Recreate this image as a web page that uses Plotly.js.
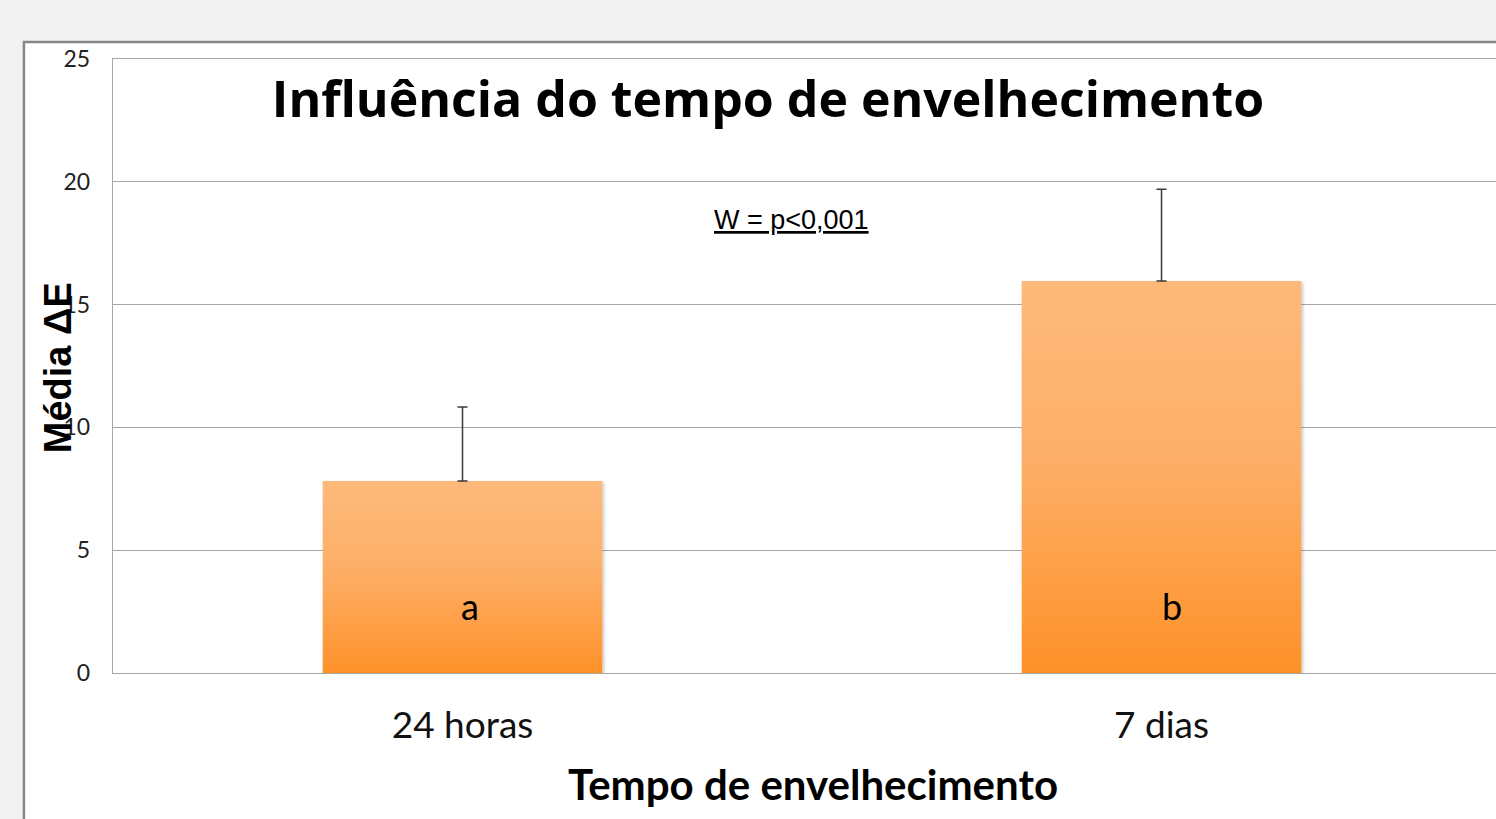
<!DOCTYPE html>
<html>
<head>
<meta charset="utf-8">
<script src="https://cdn.plot.ly/plotly-3.0.1.min.js"></script>
<style>
  html, body { margin: 0; padding: 0; background: #f2f2f2; overflow: hidden; }
</style>
</head>
<body>
<div id="root"></div>
<script>
// dados do grafico
const categorias = ['24 horas', '7 dias'];
const medias = [7.82, 15.96];
const desvios = [3.01, 3.74];
const letras = ['a', 'b'];
const tituloGrafico = 'Influência do tempo de envelhecimento';
const tituloX = 'Tempo de envelhecimento';
const tituloY = 'Média ΔE';
const teste = 'W = p&lt;0,001';

const cinza = '#a6a6a6';

var trace = {
    x: categorias,
    y: medias,
    type: 'bar',
    width: 0.4,
    marker: { color: '#fda550', line: { width: 0 } },
    error_y: {
        type: 'data',
        symmetric: false,
        array: desvios,
        arrayminus: [0, 0],
        color: '#3a3a3a',
        thickness: 1.5,
        width: 5
    },
    hoverinfo: 'none'
};

// letras dentro das barras
var anotacoes = categorias.map(function(c, i) {
    return {
        x: c, y: 2.71, xref: 'x', yref: 'y',
        text: letras[i], showarrow: false,
        xshift: i === 0 ? 7 : 10,
        font: { family: 'Lato, sans-serif', size: 36, color: '#000' }
    };
});

anotacoes.push({
    x: 0.4707, y: 18.44, xref: 'x', yref: 'y',
    text: '<u>' + teste + '</u>', showarrow: false,
    font: { family: 'Liberation Sans, Arial, sans-serif', size: 27, color: '#000' }
});

anotacoes.push({
    x: -0.0398, y: 0.498, xref: 'paper', yref: 'paper',
    xanchor: 'center', yanchor: 'middle',
    text: '<b>' + tituloY + '</b>', showarrow: false, textangle: -90,
    font: { family: 'Liberation Sans, Arial, sans-serif', size: 38, color: '#000' }
});

anotacoes.push({
    x: 0.506, y: -0.1808, xref: 'paper', yref: 'paper',
    xanchor: 'center', yanchor: 'middle',
    text: '<b>' + tituloX + '</b>', showarrow: false,
    font: { family: 'Lato, sans-serif', size: 42, color: '#000' }
});

var layout = {
    width: 1496,
    height: 819,
    margin: { l: 113, r: 0, t: 59, b: 146, pad: 0 },
    paper_bgcolor: '#f2f2f2',
    plot_bgcolor: 'rgba(0,0,0,0)',
    showlegend: false,
    title: {
        text: '<b>' + tituloGrafico + '</b>',
        x: 0.4736, xref: 'paper', xanchor: 'center',
        y: 0.878, yref: 'container', yanchor: 'middle',
        font: { family: 'Open Sans, sans-serif', size: 50, color: '#000' }
    },
    xaxis: {
        range: [-0.5, 1.4785],
        showline: true, mirror: true, linecolor: cinza, linewidth: 1.3,
        showgrid: false, zeroline: false,
        ticks: '', ticklabelstandoff: 19,
        tickfont: { family: 'Lato, sans-serif', size: 37, color: '#111' },
        fixedrange: true
    },
    yaxis: {
        range: [0, 25], dtick: 5,
        showline: true, linecolor: cinza, linewidth: 1.3,
        gridcolor: cinza, gridwidth: 1.3, zeroline: false,
        ticks: '', ticklabelstandoff: 17,
        tickfont: { family: 'Lato, sans-serif', size: 23, color: '#222' },
        fixedrange: true
    },
    shapes: [{
        type: 'rect', xref: 'paper', yref: 'paper', layer: 'below',
        x0: -0.0644, x1: 1.05, y0: -0.3, y1: 1.0277,
        fillcolor: '#ffffff', line: { color: '#878787', width: 2.5 }
    }],
    annotations: anotacoes
};

Plotly.newPlot('root', [trace], layout, { displayModeBar: false, staticPlot: true }).then(function(gd) {
    // gradiente laranja das barras, como no Excel
    var ns = 'http://www.w3.org/2000/svg';
    var svg = gd.querySelector('.main-svg');
    var defs = document.createElementNS(ns, 'defs');
    var grad = document.createElementNS(ns, 'linearGradient');
    grad.setAttribute('id', 'gradBarra');
    grad.setAttribute('x1', '0'); grad.setAttribute('y1', '0');
    grad.setAttribute('x2', '0'); grad.setAttribute('y2', '1');
    [['0', '#fdb97a'], ['0.45', '#fdaf68'], ['1', '#fe9129']].forEach(function(s) {
        var stop = document.createElementNS(ns, 'stop');
        stop.setAttribute('offset', s[0]);
        stop.setAttribute('stop-color', s[1]);
        grad.appendChild(stop);
    });
    defs.appendChild(grad);

    var filtro = document.createElementNS(ns, 'filter');
    filtro.setAttribute('id', 'sombra');
    filtro.setAttribute('x', '-5%'); filtro.setAttribute('y', '-5%');
    filtro.setAttribute('width', '115%'); filtro.setAttribute('height', '115%');
    var ds = document.createElementNS(ns, 'feDropShadow');
    ds.setAttribute('dx', '1.5'); ds.setAttribute('dy', '1.5');
    ds.setAttribute('stdDeviation', '1.5');
    ds.setAttribute('flood-color', '#000');
    ds.setAttribute('flood-opacity', '0.25');
    filtro.appendChild(ds);
    defs.appendChild(filtro);
    svg.insertBefore(defs, svg.firstChild);

    gd.querySelectorAll('.bars .point path').forEach(function(p) {
        p.style.fill = 'url(#gradBarra)';
        p.setAttribute('filter', 'url(#sombra)');
    });
});
</script>
</body>
</html>
